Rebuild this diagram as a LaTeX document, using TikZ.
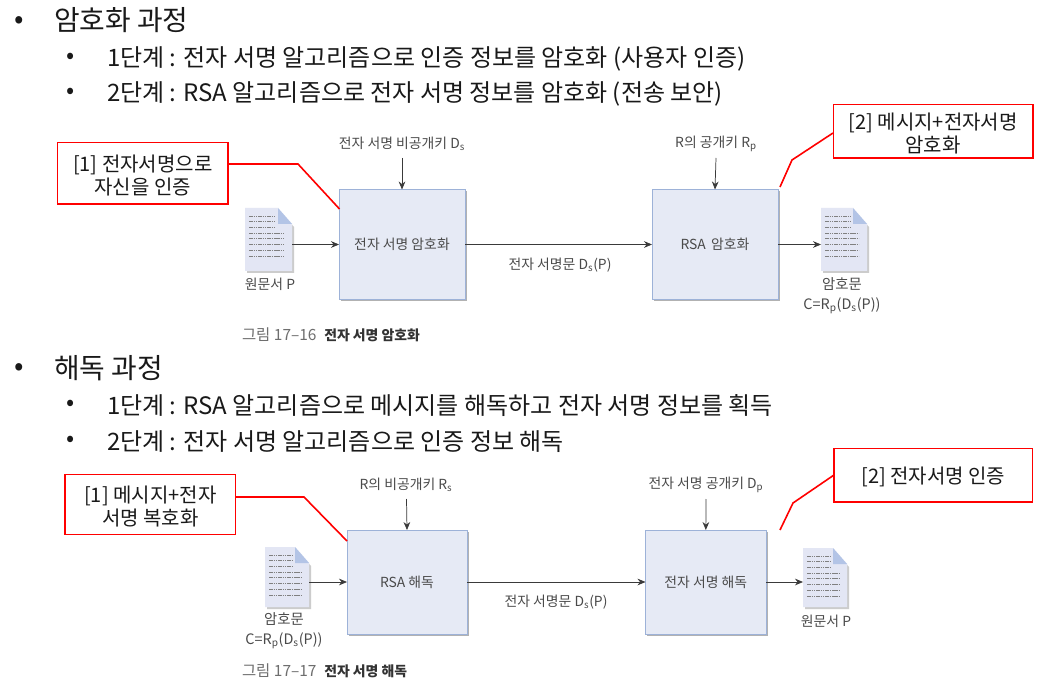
\documentclass[tikz,border=0pt]{standalone}
\usepackage{fontspec}
\setmainfont{Noto Sans CJK KR}
\usetikzlibrary{arrows.meta,shadows}
\definecolor{boxfill}{HTML}{E6EAF5}
\definecolor{boxline}{HTML}{9DB2D8}
\definecolor{docfill}{HTML}{E3E6F4}
\definecolor{docfold}{HTML}{B3C4E6}
\definecolor{figtext}{HTML}{4A4A4A}
\definecolor{capgray}{HTML}{6E6E6E}
\definecolor{arr}{HTML}{3A3A3A}
\newcommand{\toppad}{\rule{0pt}{15.5pt}}
\newcommand{\boldcap}[1]{\textbf{\fontsize{10.4}{13}\selectfont\textcolor{black!80}{#1}}}
\tikzset{
  x=0.75pt,y=-0.75pt,
  px/.style={inner sep=0pt,outer sep=0pt},
  bigtext/.style={px,anchor=west,yshift=-0.8pt,font=\fontsize{20.9}{24}\selectfont,text=black!90},
  subtext/.style={px,anchor=west,yshift=-1.1pt,font=\fontsize{18}{22}\selectfont,text=black!90},
  procbox/.style={px,draw=boxline,line width=0.7pt,fill=boxfill,anchor=north west,text=figtext,font=\fontsize{10.4}{13}\selectfont,
    drop shadow={shadow xshift=1.3pt,shadow yshift=-1.3pt,fill=black!50,opacity=0.6}},
  figlabel/.style={px,align=center,yshift=-0.6pt,text=figtext,font=\fontsize{10.4}{13}\selectfont},
  caption/.style={px,anchor=west,text=capgray,font=\fontsize{11.6}{13}\selectfont},
  callout/.style={px,draw=red,line width=1.2pt,fill=white,anchor=north west,align=center,text=black!90,font=\fontsize{15}{17.5}\selectfont},
  redline/.style={draw=red,line width=1.2pt},
  flow/.style={draw=arr,line width=0.55pt,-{Stealth[length=6pt,width=5pt]}},
}
\newcommand{\docicon}[5]{% name x0 y0 x1 y1
  \fill[black!20] (#2+2,#3+3) -- (#4-12,#3+3) -- (#4+2,#3+19) -- (#4+2,#5+2) -- (#2+2,#5+2) -- cycle;
  \fill[docfill] (#2,#3) -- (#4-14,#3) -- (#4,#3+16) -- (#4,#5) -- (#2,#5) -- cycle;
  \fill[docfold] (#4-14,#3) -- (#4,#3+16) -- (#4-14,#3+16) -- cycle;
  \foreach \i in {0,...,7}{
    \pgfmathsetmacro{\yy}{#3+8+\i*5.7}
    \pgfmathsetmacro{\xe}{\i<3 ? #4-17 : #4-8}
    \draw[black!50,line width=0.5pt,dash pattern=on 1.2pt off 0.5pt] (#2+4,\yy) -- (\xe,\yy);
  }
  \node[px,minimum width={(#4-#2)*0.75pt},minimum height={(#5-#3)*0.75pt},anchor=north west] (#1) at (#2,#3) {};
}
\begin{document}
\begin{tikzpicture}
\useasboundingbox (0,0) rectangle (1049,698);
\fill[white] (0,0) rectangle (1049,698);

% headings
\node[bigtext] (b1) at (14,21) {•};
\node[bigtext] (h1) at (54,19) {암호화 과정};
\node[subtext] (b2) at (66,57) {•};
\node[subtext] (s1) at (107,57) {1단계 : 전자 서명 알고리즘으로 인증 정보를 암호화 (사용자 인증)};
\node[subtext] (b3) at (66,92) {•};
\node[subtext] (s2) at (107,92) {2단계 : RSA 알고리즘으로 전자 서명 정보를 암호화 (전송 보안)};
\node[bigtext] (b4) at (14,368) {•};
\node[bigtext] (h2) at (54,367) {해독 과정};
\node[subtext] (b5) at (66,404) {•};
\node[subtext] (s3) at (107,404) {1단계 : RSA 알고리즘으로 메시지를 해독하고 전자 서명 정보를 획득};
\node[subtext] (b6) at (66,440) {•};
\node[subtext] (s4) at (107,440) {2단계 : 전자 서명 알고리즘으로 인증 정보 해독};

% top diagram
\node[procbox,minimum width=94.5pt,minimum height=82.5pt] (e1) at (339,189.5) {전자 서명 암호화};
\node[procbox,minimum width=94.5pt,minimum height=82.5pt] (e2) at (652,189.5) {RSA\, 암호화};
\docicon{d1}{245}{208}{292}{271}
\docicon{d2}{821}{208}{867}{271}
\node[figlabel] (k1) at (402,143) {전자 서명 비공개키 D\textsubscript{s}};
\node[figlabel] (k2) at (716,143) {R의 공개키 R\textsubscript{p}};
\coordinate (k1e) at (402,158);
\coordinate (k2e) at (716,158);
\draw[flow] (k1e) -- (e1.north);
\draw[flow] (k2e) -- (e2.north);
\draw[flow] (d1.east |- e1.west) -- (e1.west);
\draw[flow] (e1.east) -- (e2.west);
\draw[flow] (e2.east) -- (d2.west |- e2.east);
\node[figlabel] (m1) at (560,264) {전자 서명문 D\textsubscript{s}(P)};
\node[figlabel] (l1) at (270,284) {원문서 P};
\node[figlabel,font=\fontsize{10.8}{14.4}\selectfont] (l2) at (842,295) {암호문\\C=R\textsubscript{p}(D\textsubscript{s}(P))};
\node[caption] (c16) at (242,335) {그림 17–16\hspace{0.5em}\boldcap{전자 서명 암호화}};

\node[callout,minimum width=128pt,minimum height=46pt] (n1) at (57.5,142.5) {\toppad[1] 전자서명으로\\자신을 인증};
\node[callout,minimum width=149.5pt,minimum height=40pt] (n2) at (833.5,104.5) {\toppad[2] 메시지+전자서명\\암호화};
\coordinate (n1a) at (228,164);
\coordinate (n1b) at (298,164);
\coordinate (n1c) at (339.5,209);
\draw[redline] (n1a) -- (n1b) -- (n1c);
\coordinate (n2a) at (833,133);
\coordinate (n2b) at (792,160);
\coordinate (n2c) at (780,187);
\draw[redline] (n2a) -- (n2b) -- (n2c);

% bottom diagram
\node[procbox,minimum width=90pt,minimum height=78pt] (f1) at (347,530) {RSA 해독};
\node[procbox,minimum width=90.5pt,minimum height=78pt] (f2) at (645.5,530) {전자 서명 해독};
\docicon{d3}{265}{547}{309}{607}
\docicon{d4}{803}{548}{847}{607}
\node[figlabel] (k3) at (406,484) {R의 비공개키 R\textsubscript{s}};
\node[figlabel] (k4) at (706,484) {전자 서명 공개키 D\textsubscript{p}};
\coordinate (k3e) at (406.5,499);
\coordinate (k4e) at (706,499);
\draw[flow] (k3e) -- (f1.north);
\draw[flow] (k4e) -- (f2.north);
\draw[flow] (d3.east |- f1.west) -- (f1.west);
\draw[flow] (f1.east) -- (f2.west);
\draw[flow] (f2.east) -- (d4.west |- f2.east);
\node[figlabel] (m2) at (556,601) {전자 서명문 D\textsubscript{s}(P)};
\node[figlabel,font=\fontsize{10.8}{14.4}\selectfont] (l3) at (284,630) {암호문\\C=R\textsubscript{p}(D\textsubscript{s}(P))};
\node[figlabel] (l4) at (826,621) {원문서 P};
\node[caption] (c17) at (242,671) {그림 17–17\hspace{0.5em}\boldcap{전자 서명 해독}};

\node[callout,minimum width=128pt,minimum height=45pt] (n3) at (65,474.5) {\toppad[1] 메시지+전자\\서명 복호화};
\node[callout,minimum width=149pt,minimum height=40pt] (n4) at (834,448.5) {\toppad[2] 전자서명 인증};
\coordinate (n3a) at (236,497);
\coordinate (n3b) at (304,497);
\coordinate (n3c) at (347,541);
\draw[redline] (n3a) -- (n3b) -- (n3c);
\coordinate (n4a) at (834,475);
\coordinate (n4b) at (793,503);
\coordinate (n4c) at (780,530);
\draw[redline] (n4a) -- (n4b) -- (n4c);
\end{tikzpicture}
\end{document}
